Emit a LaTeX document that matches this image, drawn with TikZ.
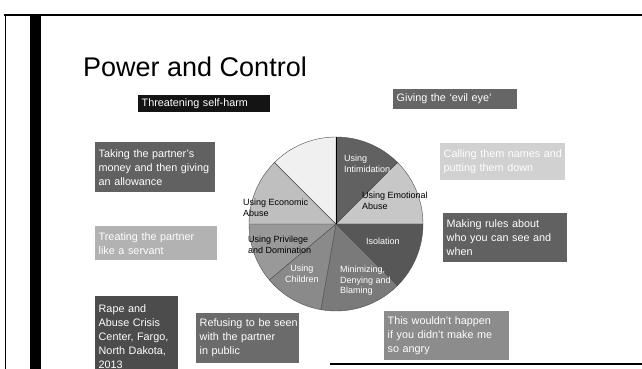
\documentclass[tikz,border=0pt]{standalone}
\usepackage{fontspec}
\setmainfont{Liberation Sans}
\newcommand{\bl}[1]{\mbox{#1}}
\begin{document}
\begin{tikzpicture}[x=1pt,y=-1pt,
  tbox/.style={anchor=north west, inner xsep=3.5pt, inner ysep=2pt, text=white, align=left,
    font=\fontsize{10.8}{14}\selectfont},
  plab/.style={anchor=north west, inner sep=0pt, align=left, font=\fontsize{9}{10.5}\selectfont},
  slice/.style={draw=black!70, line width=0.4pt}]
\useasboundingbox (0,0) rectangle (642,369);
\clip (0,0) rectangle (642,369);
\fill[white] (0,0) rectangle (642,369);
% slide frame
\draw[line width=1.5pt] (4,15) -- (642,15);
\draw[line width=1pt] (5,15) -- (5,369);
\fill[black] (30,15) rectangle (41,369);
\draw[line width=1.5pt] (330,364) -- (642,364);
% title
\node[anchor=base west, inner sep=0pt, font=\fontsize{27}{31}\selectfont] (title) at (83,76) {Power and Control};
% example boxes
\node[tbox, fill=black!92, text width=125pt, minimum height=17pt, inner ysep=1pt] (threat) at (138,95) {\bl{Threatening self-harm}};
\node[tbox, fill=black!60, text width=117pt, minimum height=20pt] (evil) at (393,89) {\bl{Giving the `evil eye'}};
\node[tbox, fill=black!62, text width=113pt, minimum height=50pt] (taking) at (95,142) {\bl{Taking the partner's}\\\bl{money and then giving}\\\bl{an allowance}};
\node[tbox, fill=black!18, text width=118pt, minimum height=37pt] (names) at (440,143) {\bl{Calling them names and}\\\bl{putting them down}};
\node[tbox, fill=black!30, text width=115pt, minimum height=34pt] (treat) at (95,226) {\bl{Treating the partner}\\\bl{like a servant}};
\node[tbox, fill=black!62, text width=117pt, minimum height=49pt] (rules) at (443,213) {\bl{Making rules about}\\\bl{who you can see and}\\\bl{when}};
\node[tbox, fill=black!70, text width=76pt, minimum height=80pt, inner ysep=3pt] (rape) at (95,296) {\bl{Rape and}\\\bl{Abuse Crisis}\\\bl{Center, Fargo,}\\\bl{North Dakota,}\\\bl{2013}};
\node[tbox, fill=black!58, text width=96pt, minimum height=50pt] (refuse) at (196,313) {\bl{Refusing to be seen}\\\bl{with the partner}\\\bl{in public}};
\node[tbox, fill=black!45, text width=118pt, minimum height=49pt] (angry) at (384,311) {\bl{This wouldn't happen}\\\bl{if you didn't make me}\\\bl{so angry}};
% pie chart
\coordinate (pc) at (336,224);
\fill[slice, fill=black!62] (pc) -- ++(45:87pt) arc[start angle=45, end angle=90, radius=87pt] -- cycle;
\fill[slice, fill=black!22] (pc) -- ++(0:87pt) arc[start angle=0, end angle=45, radius=87pt] -- cycle;
\fill[slice, fill=black!66] (pc) -- ++(-45:87pt) arc[start angle=-45, end angle=0, radius=87pt] -- cycle;
\fill[slice, fill=black!52] (pc) -- ++(-100:87pt) arc[start angle=-100, end angle=-45, radius=87pt] -- cycle;
\fill[slice, fill=black!46] (pc) -- ++(-140:87pt) arc[start angle=-140, end angle=-100, radius=87pt] -- cycle;
\fill[slice, fill=black!40] (pc) -- ++(-180:87pt) arc[start angle=-180, end angle=-140, radius=87pt] -- cycle;
\fill[slice, fill=black!25] (pc) -- ++(135:87pt) arc[start angle=135, end angle=180, radius=87pt] -- cycle;
\fill[slice, fill=black!6] (pc) -- ++(90:87pt) arc[start angle=90, end angle=135, radius=87pt] -- cycle;
\draw[line width=1pt] (pc) -- ++(90:87pt);
% pie labels
\node[plab, text=white] (lintim) at (344,155) {Using\\Intimidation};
\node[plab] (lemo) at (362,192) {Using Emotional\\Abuse};
\node[plab] (leco) at (243,199) {Using Economic\\Abuse};
\node[plab] (lpriv) at (248,236) {Using Privilege\\and Domination};
\node[plab, text=white] (liso) at (366,238) {Isolation};
\node[plab, text=white] (lmin) at (340,266) {Minimizing,\\Denying and\\Blaming};
\node[plab, text=white, align=center] (lchild) at (285,265) {Using\\Children};
\end{tikzpicture}
\end{document}
